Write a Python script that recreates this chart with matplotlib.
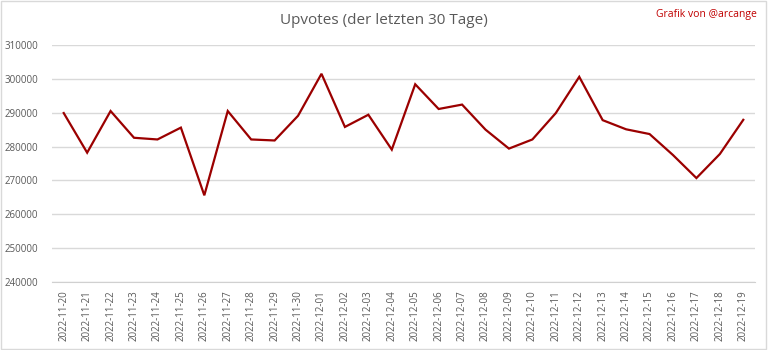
import matplotlib
matplotlib.use("Agg")
import matplotlib.pyplot as plt
from matplotlib.patches import Rectangle

dates = ["2022-11-20", "2022-11-21", "2022-11-22", "2022-11-23", "2022-11-24", "2022-11-25",
         "2022-11-26", "2022-11-27", "2022-11-28", "2022-11-29", "2022-11-30", "2022-12-01",
         "2022-12-02", "2022-12-03", "2022-12-04", "2022-12-05", "2022-12-06", "2022-12-07",
         "2022-12-08", "2022-12-09", "2022-12-10", "2022-12-11", "2022-12-12", "2022-12-13",
         "2022-12-14", "2022-12-15", "2022-12-16", "2022-12-17", "2022-12-18", "2022-12-19"]
upvotes = [289900, 278200, 290500, 282600, 282100, 285600,
           265600, 290500, 282100, 281800, 289100, 301500,
           285800, 289400, 279100, 298400, 291100, 292400,
           285000, 279400, 282100, 289900, 300600, 287800,
           285100, 283700, 277500, 270700, 277800, 287900]
yticks = [240000, 250000, 260000, 270000, 280000, 290000, 300000, 310000]

plt.rcParams['font.family'] = ['Open Sans', 'DejaVu Sans']
fig = plt.figure(figsize=(7.68, 3.5), dpi=100)
ax = fig.add_axes([52/768, 1-282/350, 703/768, 237/350])

x = list(range(len(dates)))
ax.plot(x, upvotes, color='#9b0000', linewidth=1.6, solid_joinstyle='miter')
ax.set_xlim(-0.5, len(dates) - 0.5)
ax.set_ylim(yticks[0], yticks[-1])
ax.set_yticks(yticks)
ax.set_yticklabels([str(v) for v in yticks], fontsize=7, color='#595959')
ax.set_xticks(x)
ax.set_xticklabels(dates, rotation=90, fontsize=7, color='#595959')
ax.tick_params(length=0, pad=6)
ax.tick_params(axis='y', pad=10)
ax.grid(axis='y', color='#d9d9d9', linewidth=1)
ax.set_axisbelow(True)
for s in ['top', 'right', 'left']:
    ax.spines[s].set_visible(False)
ax.spines['bottom'].set_color('#d0d0d0')

fig.text(0.5, 1-20/350, "Upvotes (der letzten 30 Tage)", ha='center', va='center',
         fontsize=11, color='#595959')
fig.text(757/768, 1-14/350, "Grafik von @arcange", ha='right', va='center',
         fontsize=7.5, color='#c00000')
fig.patches.append(Rectangle((0.001, 0.002), 0.997, 0.996, transform=fig.transFigure,
                             fill=False, edgecolor='#d9d9d9', linewidth=1))
fig.savefig("out.png", dpi=100)
